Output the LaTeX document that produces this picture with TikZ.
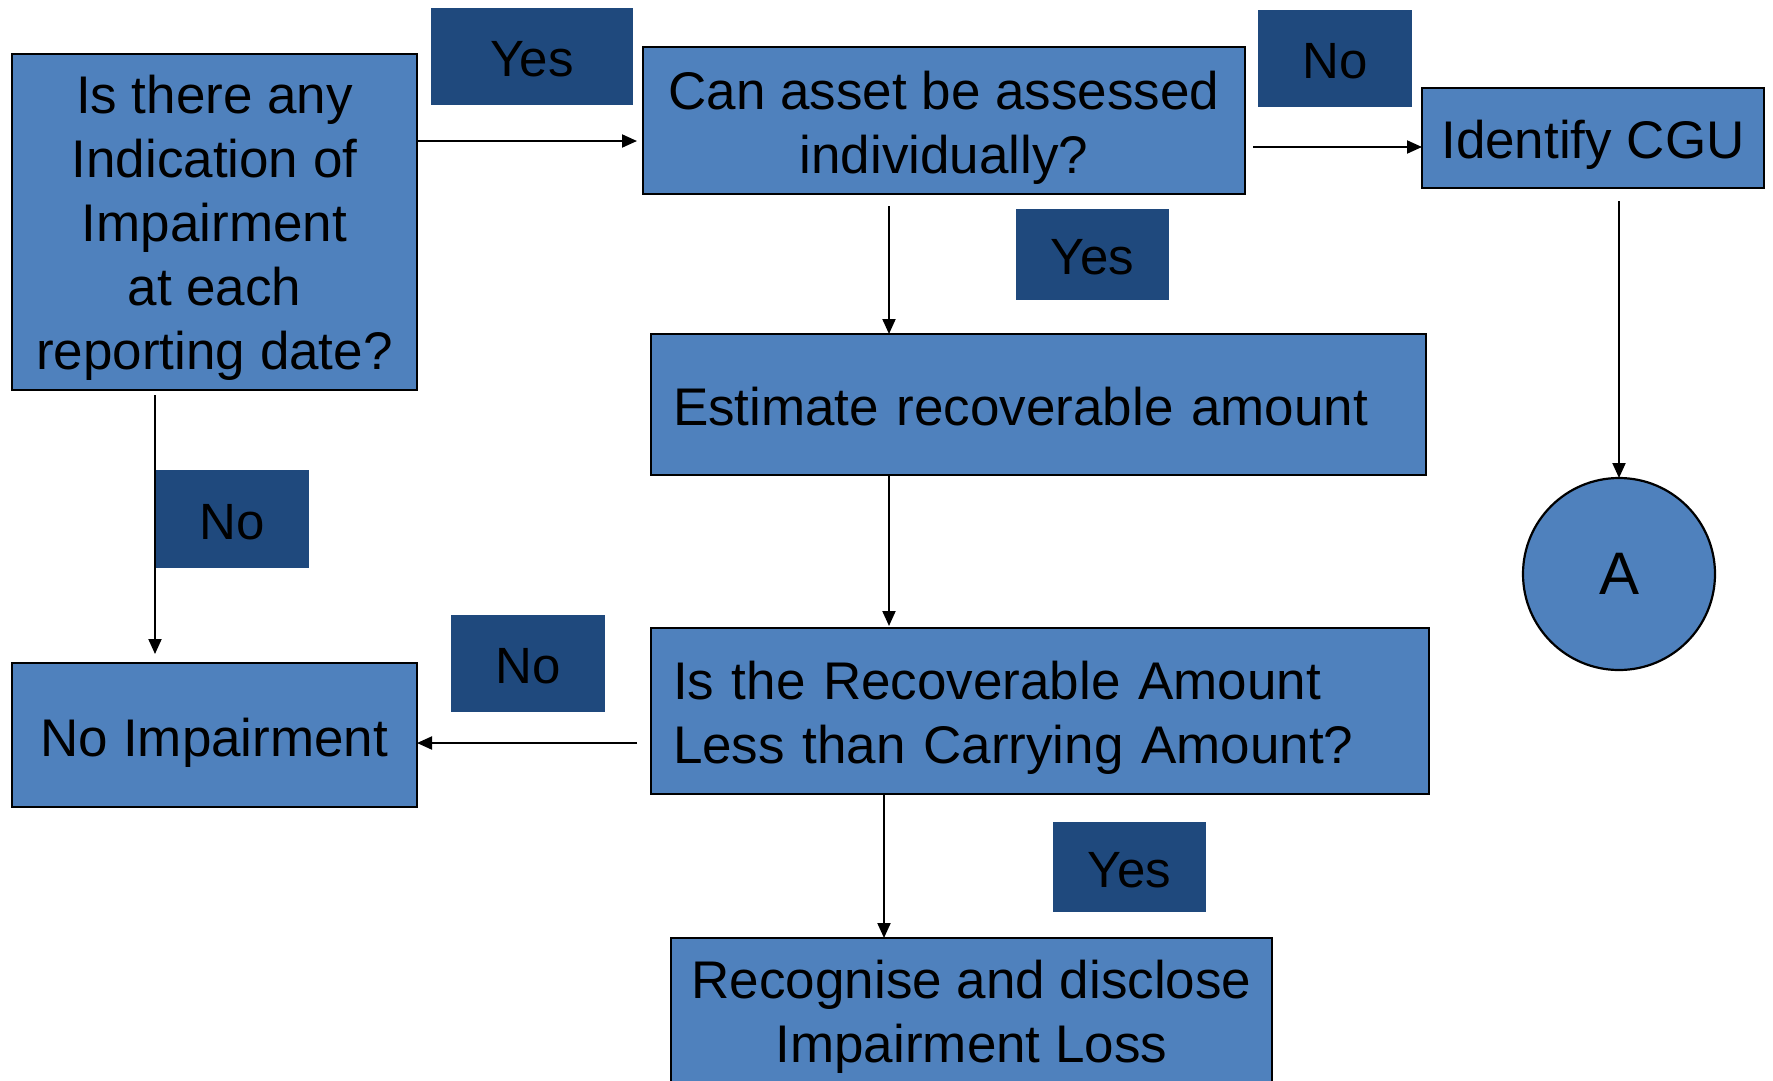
\documentclass[tikz,border=0pt]{standalone}
\usepackage{fontspec}
\setmainfont{Liberation Sans}
\usetikzlibrary{arrows.meta}
\definecolor{boxblue}{HTML}{4F81BD}
\definecolor{labblue}{HTML}{1F497D}
\newcommand{\lowr}[2]{\raisebox{-#1}[\height][\depth]{#2}}
\tikzset{
  box/.style={draw=black, line width=2.2pt, fill=boxblue, outer sep=0pt, inner sep=0pt,
    font=\fontsize{53}{64}\selectfont, align=center},
  lab/.style={fill=labblue, draw=none, outer sep=0pt, inner sep=0pt,
    font=\fontsize{51}{60}\selectfont},
  arr/.style={line width=2pt, -{Triangle[length=15pt,width=13pt]}},
}
\begin{document}
\begin{tikzpicture}[x=1pt,y=-1pt]
\useasboundingbox (0,0) rectangle (1773,1080);
% boxes
\node[box, minimum width=405pt, minimum height=336pt] (box1) at (214.5,222)
  {\lowr{6pt}{Is there any}\\\lowr{6pt}{Indication of}\\\lowr{6pt}{Impairment}\\\lowr{6pt}{at each}\\\lowr{6pt}{reporting date?}};
\node[box, minimum width=602pt, minimum height=147pt] (box2) at (944,120.5)
  {\lowr{7pt}{Can asset be assessed}\\\lowr{7pt}{individually?}};
\node[box, minimum width=342pt, minimum height=100pt] (cgu) at (1593,138)
  {\lowr{7pt}{Identify CGU}};
\node[box, minimum height=141pt, inner xsep=22pt, text width=731pt, align=left] (box3) at (1038.5,404.5)
  {\lowr{2pt}{Estimate recoverable amount}};
\node[box, minimum height=166pt, inner xsep=22pt, text width=734pt, align=left] (box4) at (1040,711)
  {\lowr{7pt}{Is the Recoverable Amount}\\\lowr{7pt}{Less than Carrying Amount?}};
\node[box, minimum width=601pt, minimum height=150pt] (box5) at (971.5,1013)
  {\lowr{4pt}{Recognise and disclose}\\\lowr{4pt}{Impairment Loss}};
\node[box, minimum width=405pt, minimum height=144pt] (noimp) at (214.5,735)
  {\lowr{8pt}{No Impairment}};
\node[box, circle, minimum size=192pt, font=\fontsize{60}{70}\selectfont] (circA) at (1619,574) {A};
% labels
\node[lab, minimum width=202pt, minimum height=97pt] (yes1) at (532,56.5) {\lowr{3pt}{Yes}};
\node[lab, minimum width=154pt, minimum height=97pt] (no1) at (1335,58.5) {\lowr{3pt}{No}};
\node[lab, minimum width=153pt, minimum height=91pt] (yes2) at (1092.5,254.5) {\lowr{3pt}{Yes}};
\node[lab, minimum width=153pt, minimum height=98pt] (no2) at (232.5,519) {\lowr{3pt}{No}};
\node[lab, minimum width=154pt, minimum height=97pt] (no3) at (528,663.5) {\lowr{3pt}{No}};
\node[lab, minimum width=153pt, minimum height=90pt] (yes3) at (1129.5,867) {\lowr{3pt}{Yes}};
% connectors
\draw[arr, shorten >=6pt] (box1.east |- 0,141) -- (box2.west |- 0,141);
\draw[arr, shorten <=8pt] (box2.east |- 0,147) -- (cgu.west |- 0,147);
\draw[arr, shorten <=12pt] (box2.south -| 889,0) -- (box3.north -| 889,0);
\draw[arr, shorten >=2pt] (box3.south -| 889,0) -- (box4.north -| 889,0);
\draw[arr] (box4.south -| 884,0) -- (box5.north -| 884,0);
\draw[arr, shorten <=14pt] (box4.west |- 0,743) -- (noimp.east |- 0,743);
\draw[arr, shorten <=5pt, shorten >=9pt] (box1.south -| 155,0) -- (noimp.north -| 155,0);
\draw[arr, shorten <=13pt] (cgu.south -| 1619,0) -- (circA.north);
\end{tikzpicture}
\end{document}
